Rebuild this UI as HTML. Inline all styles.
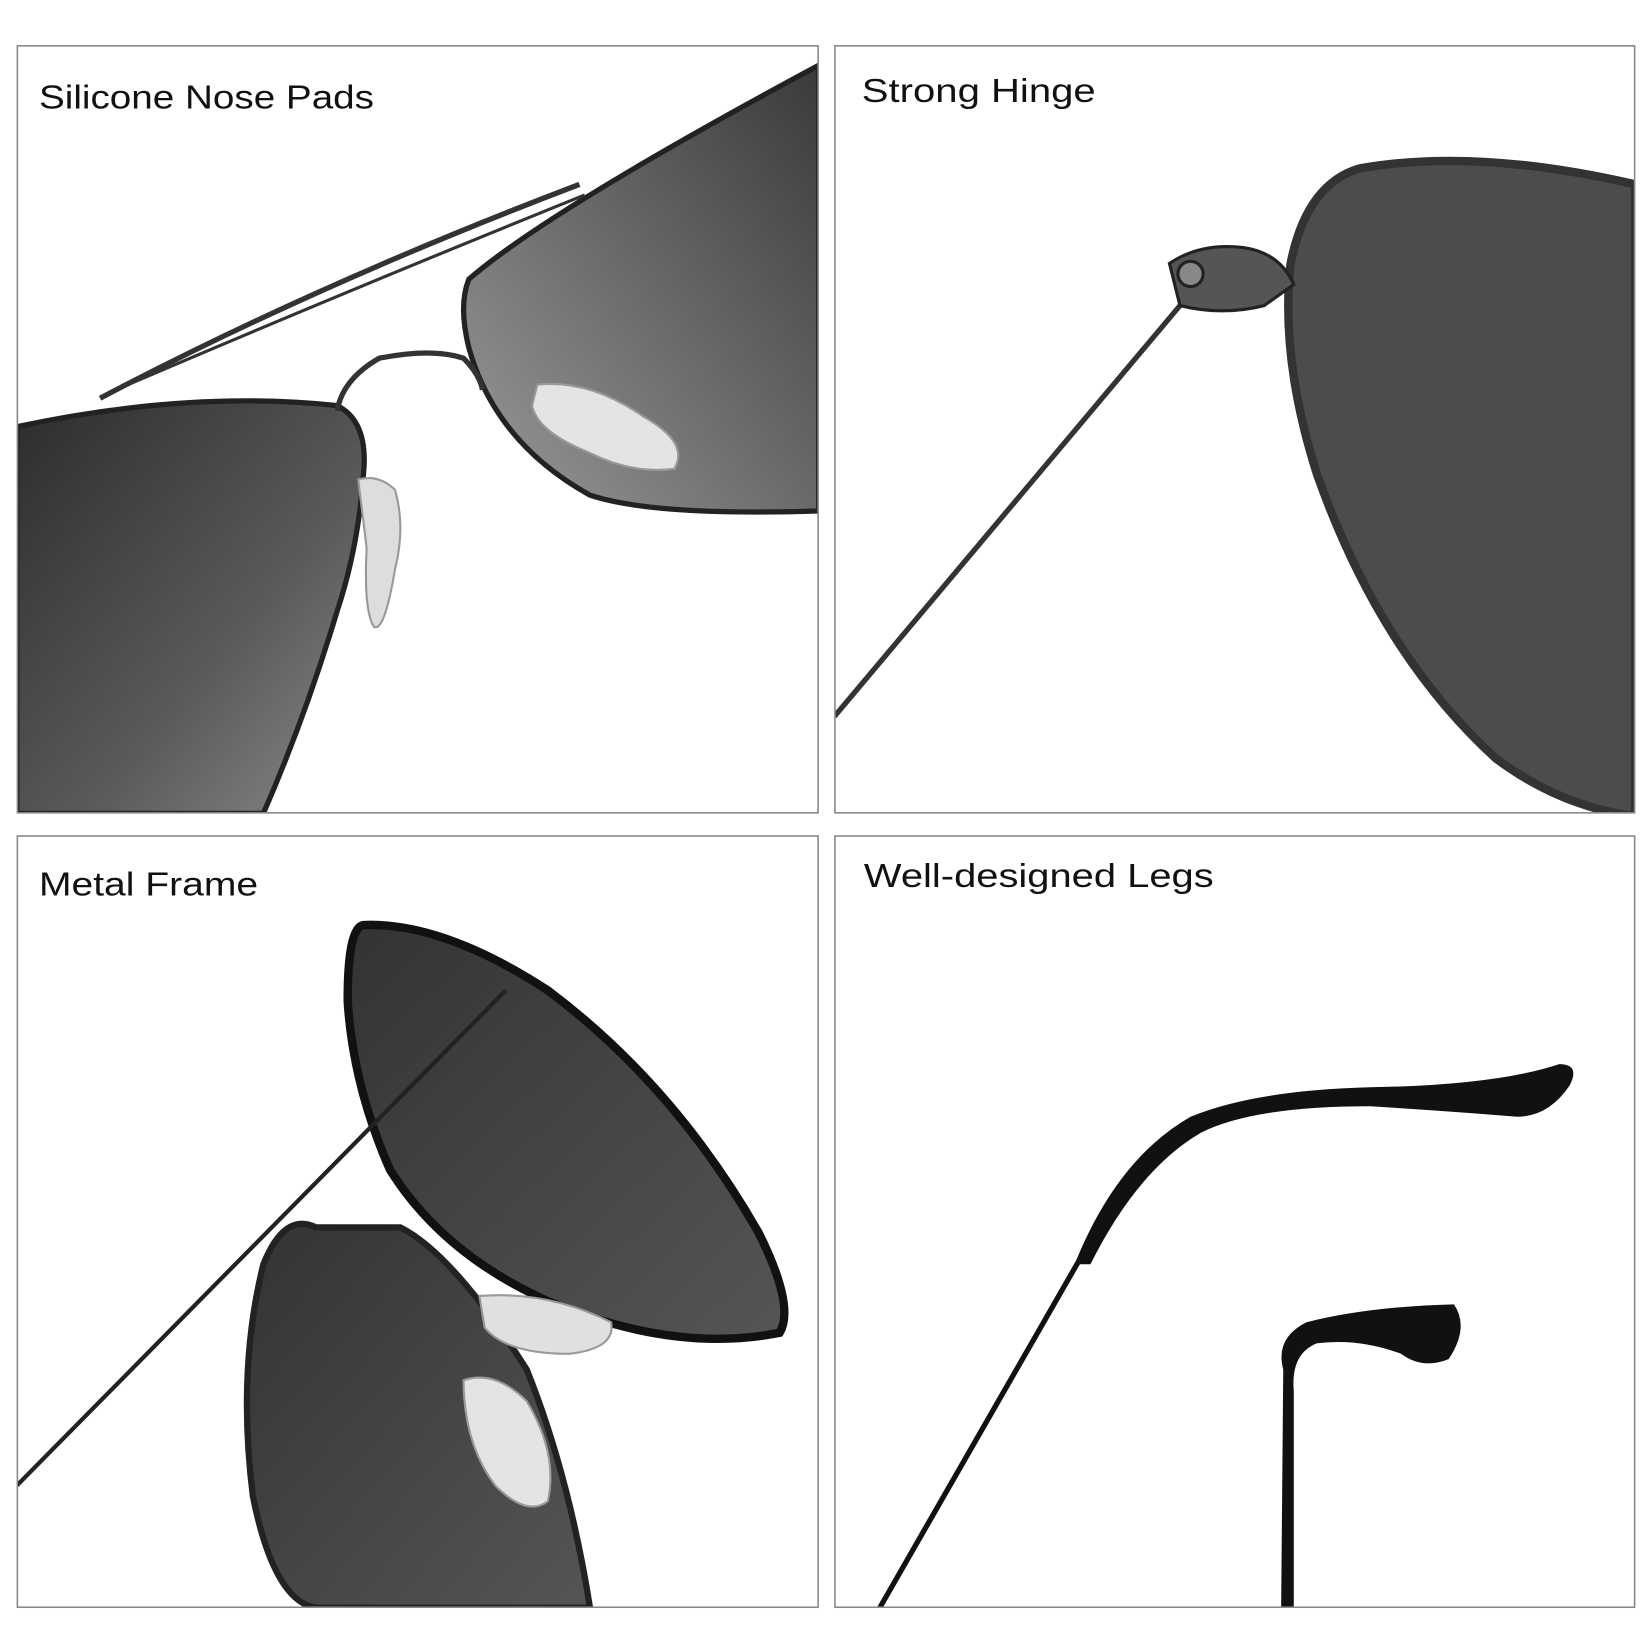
<!DOCTYPE html>
<html><head><meta charset="utf-8"><style>
html,body{margin:0;padding:0;background:#fff;}
svg{display:block}
text{font-family:"Liberation Sans",sans-serif;font-size:32px;fill:#111;}
</style></head><body>
<svg width="1652" height="1652" viewBox="0 0 1568 1568" xmlns="http://www.w3.org/2000/svg">
<defs>
<linearGradient id="g1" x1="0" y1="0" x2="1" y2="1"><stop offset="0" stop-color="#2c2c2c"/><stop offset="0.6" stop-color="#5a5a5a"/><stop offset="1" stop-color="#8a8a8a"/></linearGradient>
<linearGradient id="g2" x1="1" y1="0" x2="0" y2="1"><stop offset="0" stop-color="#3a3a3a"/><stop offset="1" stop-color="#9a9a9a"/></linearGradient>
<linearGradient id="g3" x1="0" y1="0" x2="1" y2="1"><stop offset="0" stop-color="#333"/><stop offset="1" stop-color="#555"/></linearGradient>
<clipPath id="c1"><rect x="17" y="44" width="759" height="727"/></clipPath>
<clipPath id="c2"><rect x="793" y="44" width="758" height="727"/></clipPath>
<clipPath id="c3"><rect x="17" y="794" width="759" height="731"/></clipPath>
<clipPath id="c4"><rect x="793" y="794" width="758" height="731"/></clipPath>
</defs>
<rect width="1568" height="1568" fill="#fff"/>
<g clip-path="url(#c1)">
<path d="M16 405 Q180 370 320 385 Q350 400 345 450 Q340 520 320 580 Q290 680 250 772 L16 772 Z" fill="url(#g1)" stroke="#222" stroke-width="5"/>
<path d="M445 265 Q520 200 777 62 L777 485 Q620 490 560 470 Q470 420 445 330 Q435 290 445 265 Z" fill="url(#g2)" stroke="#222" stroke-width="5"/>
<path d="M95 378 Q300 270 550 175" fill="none" stroke="#333" stroke-width="5"/>
<path d="M110 370 Q320 280 555 185" fill="none" stroke="#333" stroke-width="3"/>
<path d="M320 390 Q325 360 360 340 Q410 330 440 340 Q455 355 458 370" fill="none" stroke="#333" stroke-width="5"/>
<path d="M340 455 Q360 450 375 465 Q385 500 375 540 Q365 600 355 595 Q345 580 348 520 Z" fill="#ddd" stroke="#999" stroke-width="2"/>
<path d="M510 365 Q560 360 610 395 Q655 420 640 445 Q600 450 560 430 Q510 410 505 385 Z" fill="#e4e4e4" stroke="#999" stroke-width="2"/>
</g>
<rect x="16.5" y="43.5" width="760" height="728" fill="none" stroke="#888" stroke-width="1.5"/>
<text x="37" y="103" textLength="318" lengthAdjust="spacingAndGlyphs">Silicone Nose Pads</text>
<g clip-path="url(#c2)">
<path d="M1552 175 Q1400 140 1290 160 Q1240 175 1225 250 Q1215 340 1250 450 Q1310 620 1420 720 Q1480 765 1552 775 Z" fill="#4c4c4c" stroke="#333" stroke-width="8"/>
<path d="M792 680 L1120 290" stroke="#333" stroke-width="5"/>
<path d="M1110 250 Q1140 230 1180 235 Q1215 240 1228 270 L1200 290 Q1160 300 1120 290 Z" fill="#555" stroke="#222" stroke-width="3"/>
<circle cx="1130" cy="260" r="12" fill="#888" stroke="#222" stroke-width="3"/>
</g>
<rect x="792.5" y="43.5" width="759" height="728" fill="none" stroke="#888" stroke-width="1.5"/>
<text x="818" y="97" textLength="222" lengthAdjust="spacingAndGlyphs">Strong Hinge</text>
<g clip-path="url(#c3)">
<path d="M300 1165 Q270 1150 250 1200 Q225 1300 240 1420 Q260 1520 300 1526 L560 1526 Q540 1400 500 1300 Q430 1190 380 1165 Z" fill="url(#g3)" stroke="#222" stroke-width="6"/>
<path d="M345 878 Q330 880 330 950 Q335 1030 370 1110 Q420 1190 520 1235 Q640 1285 740 1265 Q755 1240 720 1170 Q640 1030 520 940 Q420 875 345 878 Z" fill="url(#g3)" stroke="#111" stroke-width="8"/>
<path d="M16 1410 L480 940" stroke="#222" stroke-width="4"/>
<path d="M455 1230 Q520 1225 580 1255 Q585 1280 540 1285 Q480 1285 460 1260 Z" fill="#e0e0e0" stroke="#999" stroke-width="2"/>
<path d="M440 1310 Q470 1300 500 1330 Q530 1380 520 1425 Q500 1440 470 1410 Q440 1370 440 1310 Z" fill="#e4e4e4" stroke="#999" stroke-width="2"/>
</g>
<rect x="16.5" y="793.5" width="760" height="732" fill="none" stroke="#888" stroke-width="1.5"/>
<text x="37" y="850" textLength="208" lengthAdjust="spacingAndGlyphs">Metal Frame</text>
<g clip-path="url(#c4)">
<path d="M835 1526 L1025 1195" stroke="#111" stroke-width="5"/>
<path d="M1020 1200 Q1060 1100 1130 1060 Q1190 1035 1300 1032 Q1420 1030 1480 1010 Q1500 1010 1490 1030 Q1470 1060 1440 1060 Q1380 1055 1300 1050 Q1190 1050 1140 1075 Q1080 1110 1035 1200 Z" fill="#111"/>
<path d="M1216 1526 L1218 1300 Q1210 1270 1240 1255 Q1300 1240 1380 1238 Q1395 1260 1375 1290 Q1350 1300 1330 1285 Q1290 1270 1250 1275 Q1225 1285 1228 1320 L1228 1526 Z" fill="#111"/>
</g>
<rect x="792.5" y="793.5" width="759" height="732" fill="none" stroke="#888" stroke-width="1.5"/>
<text x="820" y="842" textLength="332" lengthAdjust="spacingAndGlyphs">Well-designed Legs</text>
</svg>
</body></html>
